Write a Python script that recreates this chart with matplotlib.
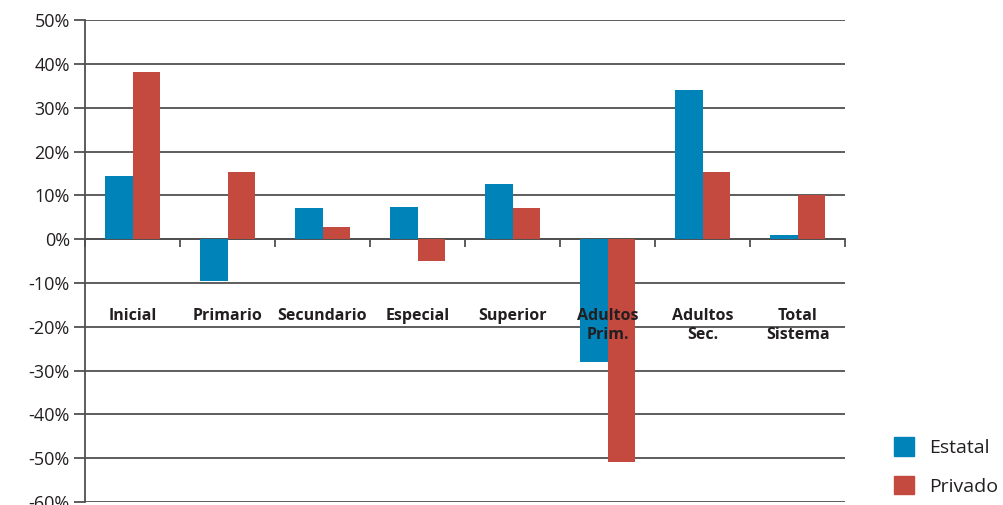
"""Variación de matrícula por nivel y sector (Estatal / Privado)."""

import matplotlib.pyplot as plt
import numpy as np
from matplotlib.patches import Patch

CATEGORIES = ["Inicial", "Primario", "Secundario", "Especial", "Superior",
              "Adultos\nPrim.", "Adultos\nSec.", "Total\nSistema"]
ESTATAL = [14.4, -9.6, 7.1, 7.3, 12.6, -28.1, 34.0, 0.9]
PRIVADO = [38.1, 15.3, 2.7, -5.0, 7.1, -50.9, 15.3, 10.0]
YTICKS = list(range(-60, 51, 10))

BLUE = "#0083B8"
RED = "#C4493E"
GRID = "#505050"
TEXT = "#231F20"

plt.rcParams["font.family"] = ["Open Sans", "DejaVu Sans"]

fig = plt.figure(figsize=(10.04, 5.05), dpi=100)
ax = fig.add_axes([0.0847, 0.006, 0.757, 0.954])

x = np.arange(len(CATEGORIES))
w = 0.29
ax.bar(x - w / 2, ESTATAL, w, color=BLUE, zorder=3)
ax.bar(x + w / 2, PRIVADO, w, color=RED, zorder=3)

ax.set_xlim(-0.5, len(CATEGORIES) - 0.5)
ax.set_ylim(-60, 50)
ax.set_yticks(YTICKS)
ax.set_yticklabels([f"{v}%" for v in YTICKS], fontsize=13, color=TEXT)
ax.yaxis.grid(True, color=GRID, lw=1.3, zorder=0)
ax.tick_params(axis="y", length=8, width=1.3, color=GRID, pad=3)

# category boundaries as small ticks on the zero line
ax.spines["bottom"].set_position(("data", 0))
ax.spines["bottom"].set_color(GRID)
ax.spines["bottom"].set_linewidth(1.3)
ax.spines["bottom"].set_zorder(2)
ax.set_xticks(np.arange(-0.5, len(CATEGORIES), 1.0))
ax.set_xticklabels([])
ax.tick_params(axis="x", length=6, width=1.3, color=GRID, direction="out")
ax.spines["left"].set_color(GRID)
ax.spines["left"].set_linewidth(1.3)
for s in ("top", "right"):
    ax.spines[s].set_visible(False)

for xi, lab in zip(x, CATEGORIES):
    ax.text(xi, -15.6, lab, ha="center", va="top", fontsize=11.5,
            fontweight="bold", color=TEXT, linespacing=1.3, zorder=5)

handles = [Patch(color=BLUE, label="Estatal"), Patch(color=RED, label="Privado")]
fig.legend(handles=handles, loc="lower left", bbox_to_anchor=(0.873, -0.016),
           frameon=False, fontsize=14, handlelength=1.05, handleheight=1.1,
           handletextpad=0.75, labelspacing=0.95, labelcolor=TEXT)

fig.savefig("out.png", dpi=100)
